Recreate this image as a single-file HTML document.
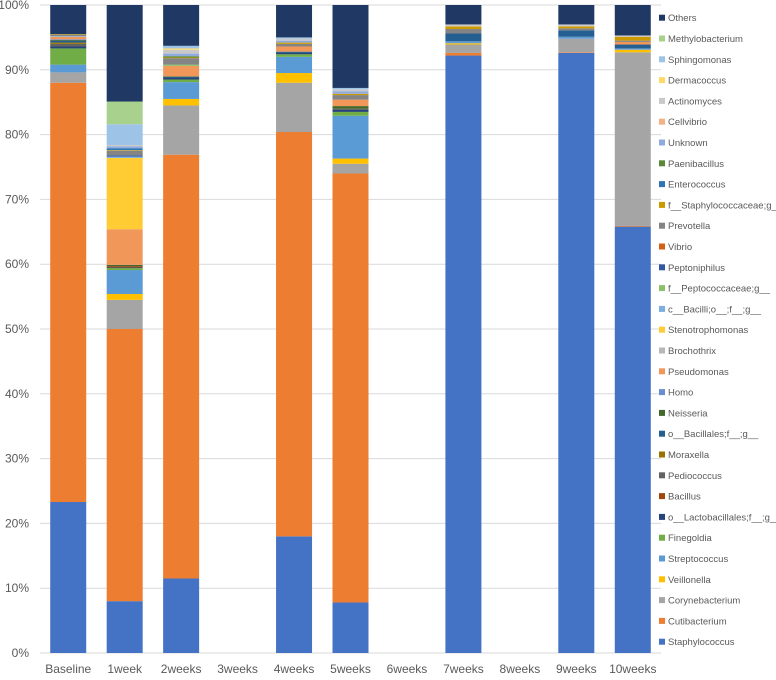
<!DOCTYPE html>
<html><head><meta charset="utf-8"><style>
body{margin:0;background:#fff;width:776px;height:675px;overflow:hidden;font-family:"Liberation Sans",sans-serif}
svg text{font-family:"Liberation Sans",sans-serif;fill:#595959}
</style></head><body>
<svg id="chart" width="776" height="675" xmlns="http://www.w3.org/2000/svg"></svg>
<script>
const categories=["Baseline","1week","2weeks","3weeks","4weeks","5weeks","6weeks","7weeks","8weeks","9weeks","10weeks"];
const seriesNames=["Staphylococcus","Cutibacterium","Corynebacterium","Veillonella","Streptococcus","Finegoldia","o__Lactobacillales;f__;g__","Bacillus","Pediococcus","Moraxella","o__Bacillales;f__;g__","Neisseria","Homo","Pseudomonas","Brochothrix","Stenotrophomonas","c__Bacilli;o__;f__;g__","f__Peptococcaceae;g__","Peptoniphilus","Vibrio","Prevotella","f__Staphylococcaceae;g__","Enterococcus","Paenibacillus","Unknown","Cellvibrio","Actinomyces","Dermacoccus","Sphingomonas","Methylobacterium","Others"];
const seriesColors=["#4472C4","#ED7D31","#A5A5A5","#FFC000","#5B9BD5","#70AD47","#264478","#9E480E","#636363","#997300","#255E91","#43682B","#698ED0","#F1975A","#B7B7B7","#FFCD33","#7CAFDD","#8CC168","#335AA1","#D26012","#848484","#CC9A00","#2E75B6","#5A8A39","#8FAADC","#F4B183","#C9C9C9","#FFD966","#9DC3E6","#A9D18E","#203864"];
const staphylococcus=[23.3,8,11.5,0,18,7.8,0,92.2,0,92.6,65.8];
const cutibacterium=[64.7,42,65.4,0,62.4,66.2,0,0.4,0,0.1,0.1];
const corynebacterium=[1.6,4.5,7.6,0,7.6,1.5,0,1.3,0,2.1,26.8];
const veillonella=[0,0.9,1,0,1.5,0.8,0,0.2,0,0,0.4];
const streptococcus=[1.2,3.7,2.6,0,2.5,6.6,0,0.3,0,0.3,0.2];
const finegoldia=[2.5,0.3,0.4,0,0.4,0.6,0,0,0,0,0];
const oLactobacillales=[0.3,0.1,0.3,0,0.2,0.3,0,0,0,0,0];
const bacillus=[0,0.2,0,0,0,0,0,0,0,0,0];
const pediococcus=[0.4,0,0,0,0,0.2,0,0,0,0,0];
const moraxella=[0.2,0,0,0,0,0,0,0,0,0,0];
const oBacillales=[0.3,0,0.1,0,0.2,0,0,1.2,0,1.0,0.6];
const neisseria=[0.1,0.2,0.1,0,0,0.4,0,0,0,0,0];
const homo=[0.1,0,0,0,0,0,0,0,0,0,0];
const pseudomonas=[0.4,5.5,1.6,0,0.8,1.0,0,0,0,0,0.4];
const brochothrix=[0,0,0,0,0,0,0,0,0,0,0];
const stenotrophomonas=[0,11,0,0,0,0,0,0,0,0,0];
const cBacilli=[0.1,0.2,0,0,0,0,0,0,0,0,0];
const fPeptococcaceae=[0,0,0.2,0,0,0,0,0,0,0,0];
const peptoniphilus=[0,0.2,0,0,0,0,0,0,0,0,0];
const vibrio=[0,0,0,0,0,0,0,0,0,0,0];
const prevotella=[0.2,0.7,1.0,0,0.4,0.7,0,0.7,0,0.3,0.2];
const fStaphylococcaceae=[0.1,0.1,0.1,0,0.2,0.2,0,0.4,0,0.3,0.6];
const enterococcus=[0,0.3,0,0,0,0,0,0,0,0,0];
const paenibacillus=[0,0,0.2,0,0,0,0,0,0,0,0];
const unknown=[0,0.3,0.4,0,0.3,0.4,0,0,0,0,0];
const cellvibrio=[0,0,0,0,0,0,0,0,0,0,0];
const actinomyces=[0,0.2,0.6,0,0.3,0.3,0,0.3,0,0.3,0.2];
const dermacoccus=[0,0,0.2,0,0,0,0,0,0,0,0];
const sphingomonas=[0,3.2,0.4,0,0.2,0.2,0,0,0,0,0];
const methylobacterium=[0,3.5,0,0,0,0,0,0,0,0,0];
const others=[4.5,14.9,6.3,0,5.0,12.8,0,3.0,0,3.0,4.7];
const seriesValues=[staphylococcus,cutibacterium,corynebacterium,veillonella,streptococcus,finegoldia,oLactobacillales,bacillus,pediococcus,moraxella,oBacillales,neisseria,homo,pseudomonas,brochothrix,stenotrophomonas,cBacilli,fPeptococcaceae,peptoniphilus,vibrio,prevotella,fStaphylococcaceae,enterococcus,paenibacillus,unknown,cellvibrio,actinomyces,dermacoccus,sphingomonas,methylobacterium,others];
const yTicks=[0,10,20,30,40,50,60,70,80,90,100];

const svg=document.getElementById('chart');
const NS='http://www.w3.org/2000/svg';
const X0=40,X1=661,Y0=653,Y1=5;
const band=(X1-X0)/categories.length, barW=36;
function yScale(v){return Y0-(Math.min(v,100)/100)*(Y0-Y1);}
function xBand(i){return X0+i*band+(band-barW)/2;}
function mk(tag,attrs){const e=document.createElementNS(NS,tag);for(const k in attrs)e.setAttribute(k,attrs[k]);svg.appendChild(e);return e;}

yTicks.forEach(t=>{
  const l=mk('line',{x1:X0,x2:X1,y1:yScale(t),y2:yScale(t),stroke:'#d9d9d9','stroke-width':1});
  
  
  const tx=mk('text',{x:29,y:yScale(t)+4,'text-anchor':'end','font-size':12});
  tx.textContent=t+'%';
  
  
});
categories.forEach((c,i)=>{
  let base=0;
  seriesValues.forEach((vals,s)=>{
    const v=vals[i];
    if(v>0){
      const r=mk('rect',{x:xBand(i),y:yScale(base+v),width:barW,height:Math.max(0,yScale(base)-yScale(base+v)),fill:seriesColors[s]});
      
      
    }
    base+=v;
  });
  const tx=mk('text',{x:X0+i*band+band/2,y:673,'text-anchor':'middle','font-size':12});
  tx.textContent=c;
  
  
});
const n=seriesNames.length;
for(let k=0;k<n;k++){
  const s=n-1-k;
  const y=17.7+k*20.8;
  const r=mk('rect',{x:659,y:y-3,width:6,height:6,fill:seriesColors[s]});
  
  
  const t=mk('text',{x:668,y:y+3.5,'font-size':9.5});
  t.textContent=seriesNames[s];
  
  
}
</script>
</body></html>
